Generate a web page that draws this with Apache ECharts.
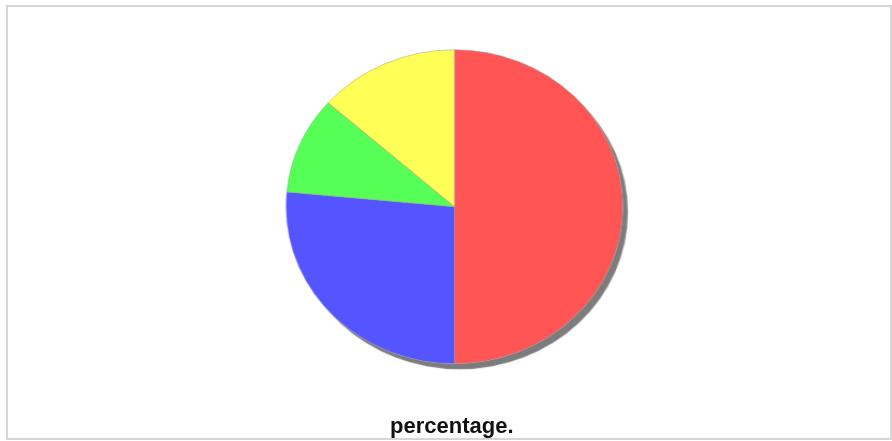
<!DOCTYPE html>
<html>
<head>
<meta charset="utf-8">
<script src="https://cdn.jsdelivr.net/npm/echarts@6/dist/echarts.min.js"></script>
<style>
  html, body { margin: 0; padding: 0; background: #fff; }
  #wrap { position: relative; width: 892px; height: 441px; overflow: hidden; }
  /* jfreechart-style pie is a bit wider than tall, so the pie layer is stretched */
  #pie { position: absolute; left: 0; top: 0; width: 892px; height: 441px;
         transform: scaleX(1.073); transform-origin: 454.5px 206.7px; }
  #title { position: absolute; left: 0; top: 0; width: 892px; height: 441px; }
  #frame { position: absolute; left: 6px; top: 5px; width: 882px; height: 431px;
           border: 2px solid #d6d6d6; pointer-events: none; }
</style>
</head>
<body>
<div id="wrap">
  <div id="pie"></div>
  <div id="title"></div>
  <div id="frame"></div>
</div>
<script>
const categories = ['A', 'B', 'C', 'D']
const values = [50, 26.5, 10, 13.5]
const colors = ['#ff5555', '#5555ff', '#55ff55', '#ffff55']

const total = values.reduce((a, b) => a + b, 0)

const pieChart = echarts.init(document.getElementById('pie'), null, { renderer: 'canvas' })
pieChart.setOption({
  animation: false,
  series: [
    {
      // shadow under the pie
      type: 'pie',
      silent: true,
      center: [454.5, 206.7],
      radius: 157,
      startAngle: 90,
      label: { show: false },
      labelLine: { show: false },
      z: 1,
      data: [{ value: total }],
      itemStyle: {
        color: '#ffffff',
        shadowColor: '#7c7c7c',
        shadowBlur: 1,
        shadowOffsetX: 4.6,
        shadowOffsetY: 5.5
      }
    },
    {
      type: 'pie',
      center: [454.5, 206.7],
      radius: 157,
      startAngle: 90,
      clockwise: true,
      z: 2,
      label: { show: false },
      labelLine: { show: false },
      emphasis: { disabled: true },
      itemStyle: {
        borderColor: '#999999',
        borderWidth: 0.5
      },
      data: categories.map((name, i) => ({
        name: name,
        value: values[i],
        itemStyle: { color: colors[i] }
      }))
    }
  ]
})

const titleChart = echarts.init(document.getElementById('title'))
titleChart.setOption({
  animation: false,
  title: {
    text: 'percentage.',
    left: 390,
    top: 416,
    padding: 0,
    textStyle: {
      fontFamily: 'Liberation Sans',
      fontWeight: 'bold',
      fontSize: 22,
      color: '#111'
    }
  }
})
</script>
</body>
</html>
